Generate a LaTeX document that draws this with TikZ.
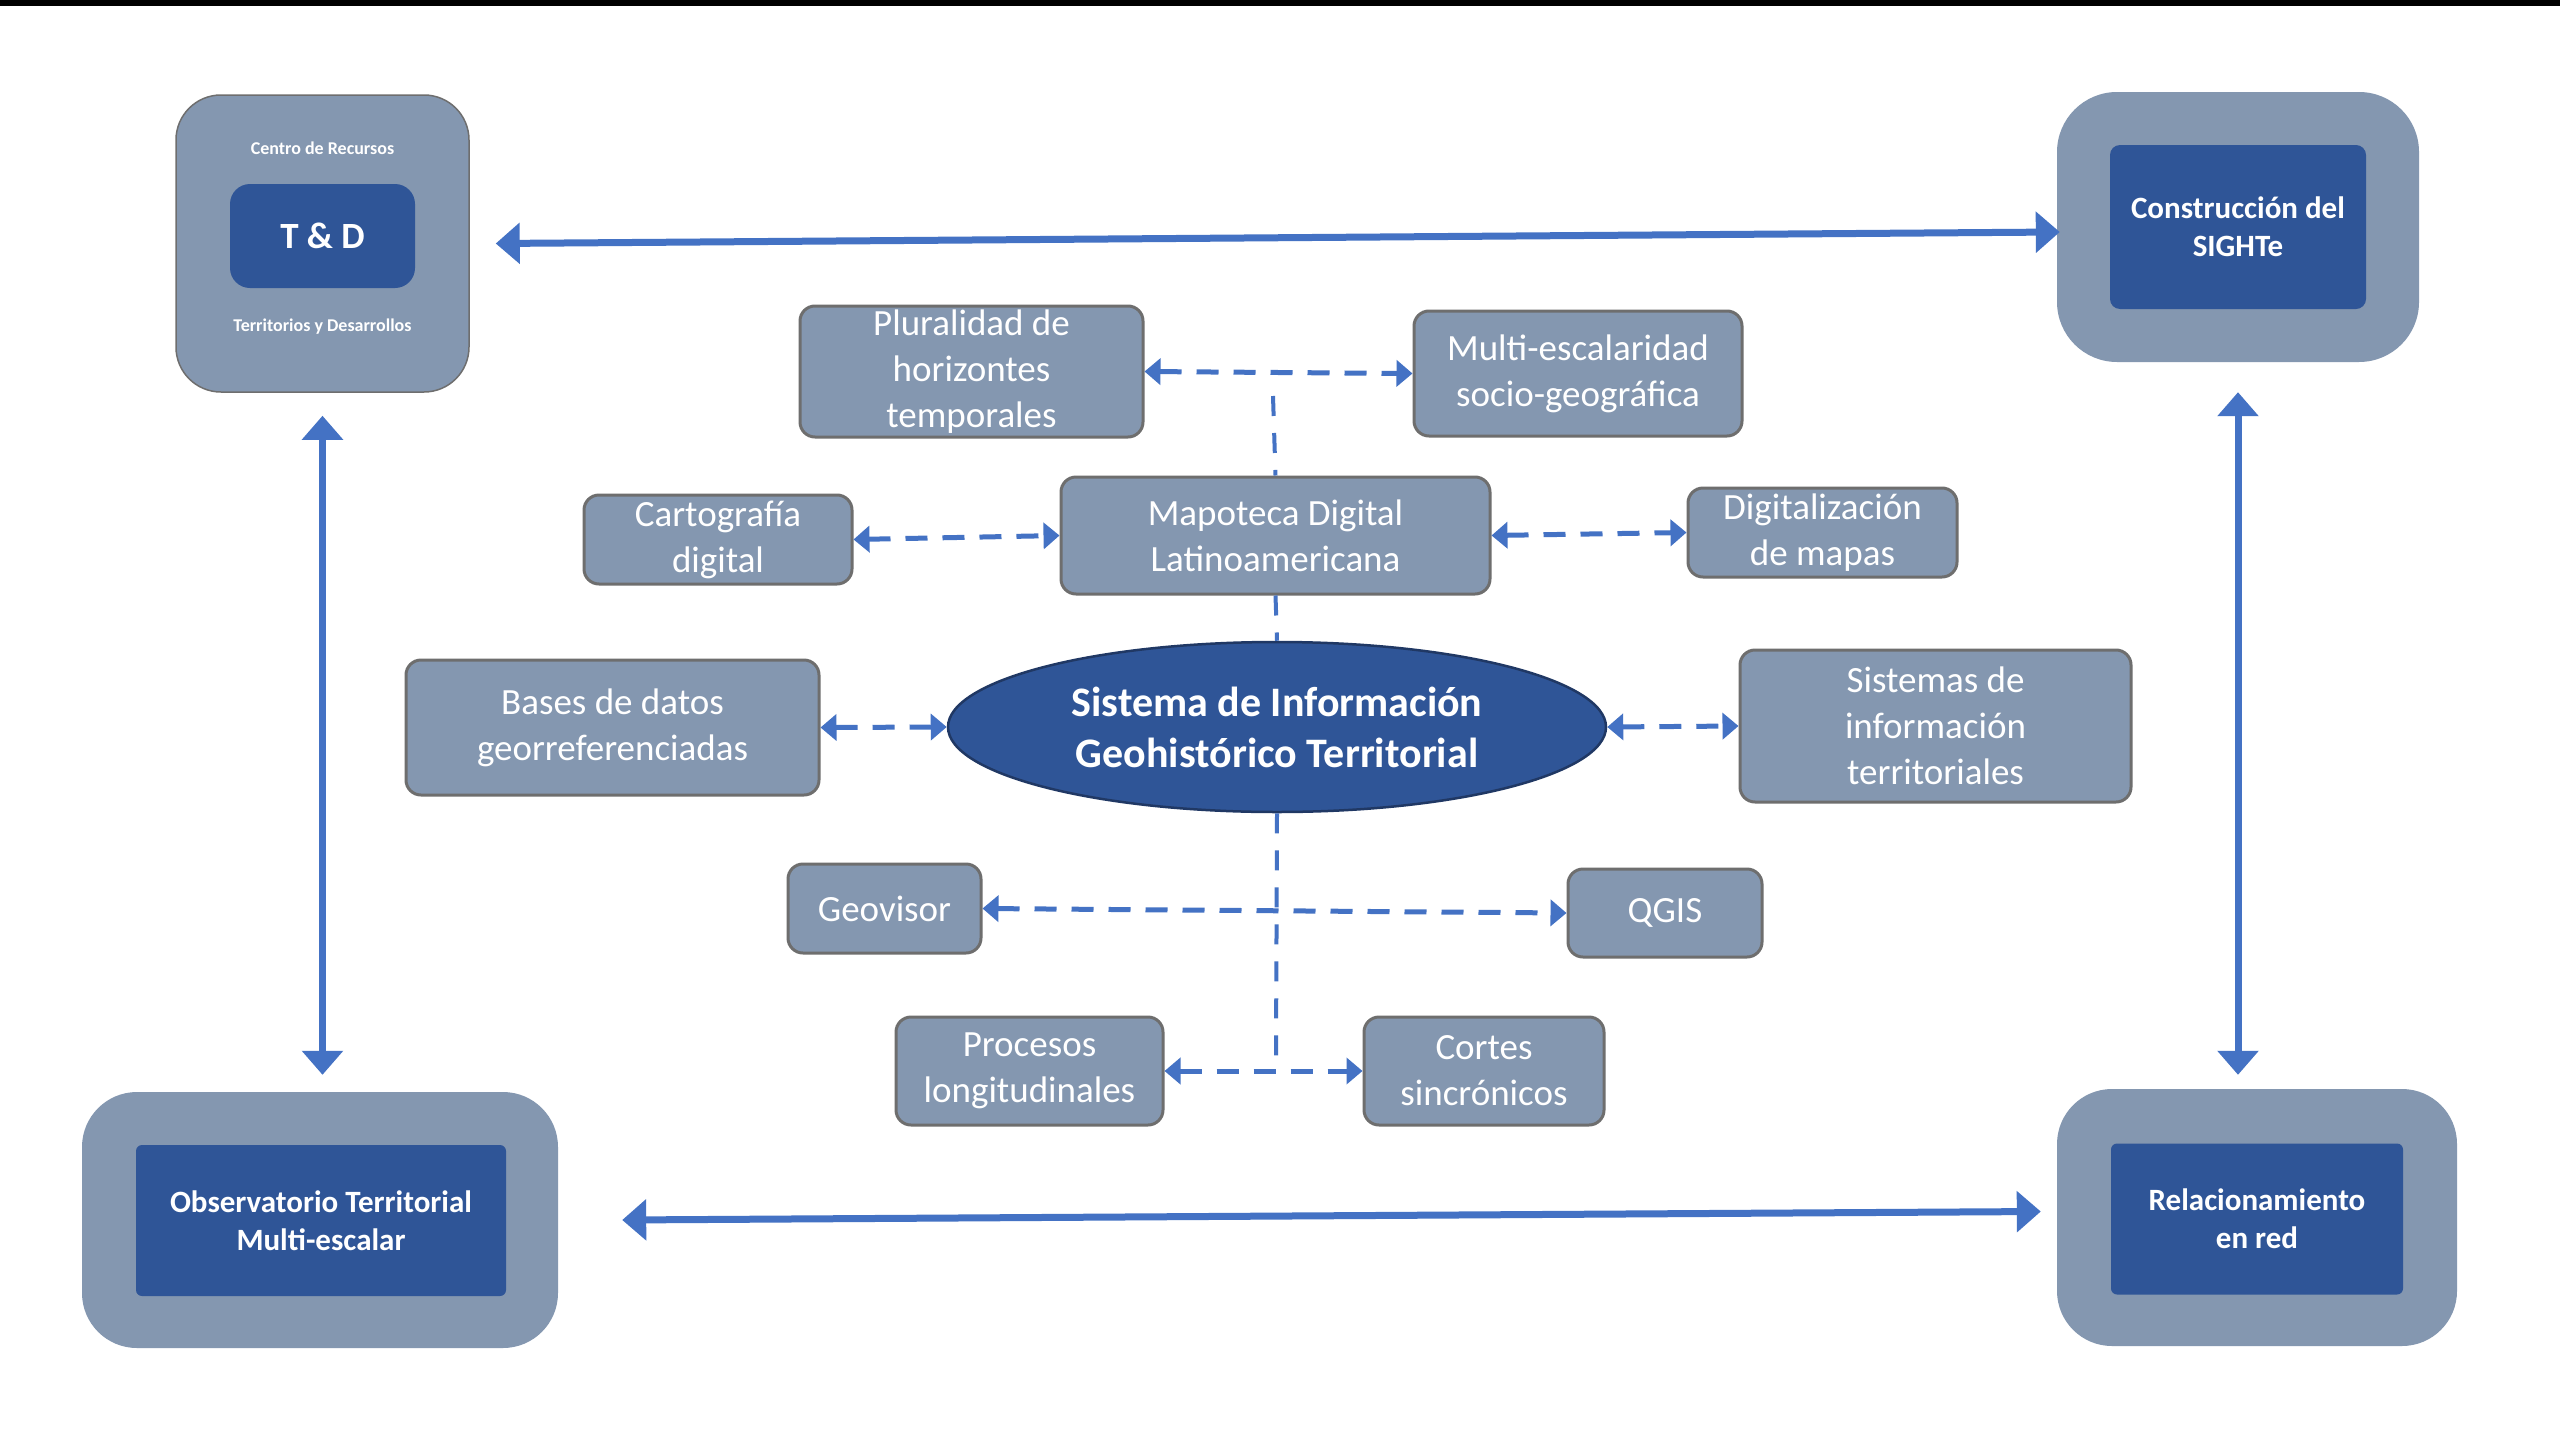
\documentclass[tikz,border=0pt]{standalone}
\usepackage{fontspec}
\setmainfont{Carlito}
\usetikzlibrary{arrows.meta,calc,shapes.geometric}
\definecolor{arrblue}{HTML}{4472C4}
\definecolor{boxgray}{HTML}{8497B0}
\definecolor{bordgray}{HTML}{6E6E6E}
\definecolor{darkblue}{HTML}{2F5597}
\definecolor{navy}{HTML}{203864}
\tikzset{
  cbox/.style={rectangle, rounded corners=15pt, fill=boxgray, draw=bordgray, line width=3pt,
    text=white, align=center, inner sep=0pt, font=\fontsize{37}{46}\selectfont},
  outerbox/.style={rectangle, fill=boxgray, inner sep=0pt},
  innerbox/.style={rectangle, fill=darkblue, text=white, align=center, inner sep=0pt,
    font=\bfseries\fontsize{31}{38}\selectfont},
  smalllabel/.style={text=white, inner sep=0pt, font=\bfseries\fontsize{18}{22}\selectfont},
  bigarr/.style={draw=arrblue, line width=7pt,
    {Triangle[length=24pt,width=40pt]}-{Triangle[length=24pt,width=40pt]}},
  dasharr/.style={draw=arrblue, line width=5pt, dash pattern=on 22pt off 15pt,
    {Triangle[length=16pt,width=26pt]}-{Triangle[length=16pt,width=26pt]}},
  spine/.style={draw=arrblue, line width=4pt, dash pattern=on 20pt off 17pt},
}
\begin{document}
\begin{tikzpicture}[x=1pt,y=-1pt]
\useasboundingbox (0,0) rectangle (2560,1440);
\fill[white] (0,0) rectangle (2560,1440);
\fill[black] (0,0) rectangle (2560,6);

% corner blocks
\node[outerbox, draw=bordgray, line width=1.5pt, rounded corners=45pt, minimum width=293pt, minimum height=297pt] (tdo) at (322.5,243.5) {};
\node[innerbox, rounded corners=20pt, minimum width=185pt, minimum height=104pt, font=\bfseries\fontsize{37}{44}\selectfont] (tdi) at (322.5,236) {T \& D};
\node[smalllabel] (tdtop) at (322.5,148) {Centro de Recursos};
\node[smalllabel] (tdbot) at (322.5,327) {Territorios y Desarrollos};

\node[outerbox, rounded corners=60pt, minimum width=362pt, minimum height=270pt] (sigho) at (2238,227) {};
\node[innerbox, rounded corners=10pt, minimum width=256pt, minimum height=164pt] (sighi) at (2238,227) {Construcción del\\SIGHTe};

\node[outerbox, rounded corners=55pt, minimum width=476pt, minimum height=256pt] (obso) at (320,1220) {};
\node[innerbox, rounded corners=6pt, minimum width=370pt, minimum height=151pt] (obsi) at (321,1220.5) {Observatorio Territorial\\Multi-escalar};

\node[outerbox, rounded corners=55pt, minimum width=400pt, minimum height=257pt] (relo) at (2257,1217.5) {};
\node[innerbox, rounded corners=6pt, minimum width=292pt, minimum height=151pt] (reli) at (2257,1219) {Relacionamiento\\en red};

% central boxes
\node[cbox, minimum width=343pt, minimum height=131pt] (plu) at (971.5,371.5) {Pluralidad de\\horizontes\\temporales};
\node[cbox, minimum width=328pt, minimum height=125pt] (mul) at (1578,373.5) {Multi-escalaridad\\socio-geográfica};
\node[cbox, minimum width=268pt, minimum height=89pt] (carto) at (718,539.5) {Cartografía\\digital};
\node[cbox, minimum width=429pt, minimum height=117pt] (mapo) at (1275.5,535.5) {Mapoteca Digital\\Latinoamericana};
\node[cbox, minimum width=269pt, minimum height=89pt] (digi) at (1822.5,532.5) {Digitalización\\de mapas};
\node[cbox, minimum width=413pt, minimum height=135pt] (bases) at (612.5,727.5) {Bases de datos\\georreferenciadas};
\node[ellipse, fill=darkblue, draw=navy, line width=2.5pt, minimum width=658pt, minimum height=170pt,
      inner sep=0pt, text=white, align=center, font=\bfseries\fontsize{42}{51}\selectfont] (sig) at (1277,727) {Sistema de Información\\Geohistórico Territorial};
\node[cbox, minimum width=391pt, minimum height=152pt] (sist) at (1935.5,726) {Sistemas de\\información\\territoriales};
\node[cbox, minimum width=193pt, minimum height=89pt] (geo) at (884.5,908.5) {Geovisor};
\node[cbox, minimum width=194pt, minimum height=88pt] (qgis) at (1665,913) {QGIS};
\node[cbox, minimum width=267pt, minimum height=108pt] (proc) at (1029.5,1071) {Procesos\\longitudinales};
\node[cbox, minimum width=240pt, minimum height=108pt] (cort) at (1484,1071) {Cortes\\sincrónicos};

% spine
\coordinate (spinetop) at (1273,396);
\coordinate (spinebot) at (1276,1057);
\draw[spine] (spinetop) -- (mapo.north);
\draw[spine] (mapo.south) -- (sig.north);
\draw[spine] (sig.south) -- (spinebot);

% dashed arrows
\draw[dasharr] (plu.east) -- (mul.west);
\draw[dasharr] (carto.east) -- (mapo.west);
\draw[dasharr] (mapo.east) -- (digi.west);
\draw[dasharr] (bases.east) -- (sig.west);
\draw[dasharr] (sig.east) -- (sist.west);
\draw[dasharr] (geo.east) -- (qgis.west);
\draw[dasharr] (proc.east) -- (cort.west);

% big arrows
\draw[bigarr] ($(tdo.east)+(26,0)$) -- ($(sigho.west)+(3,5)$);
\draw[bigarr] ($(tdo.south)+(0,23)$) -- ($(obso.north)+(2.5,-17)$);
\draw[bigarr] ($(sigho.south)+(0,30)$) -- ($(relo.north)+(-19,-14)$);
\draw[bigarr] ($(obso.east)+(64,0)$) -- ($(relo.west)+(-16,-6)$);
\end{tikzpicture}
\end{document}
